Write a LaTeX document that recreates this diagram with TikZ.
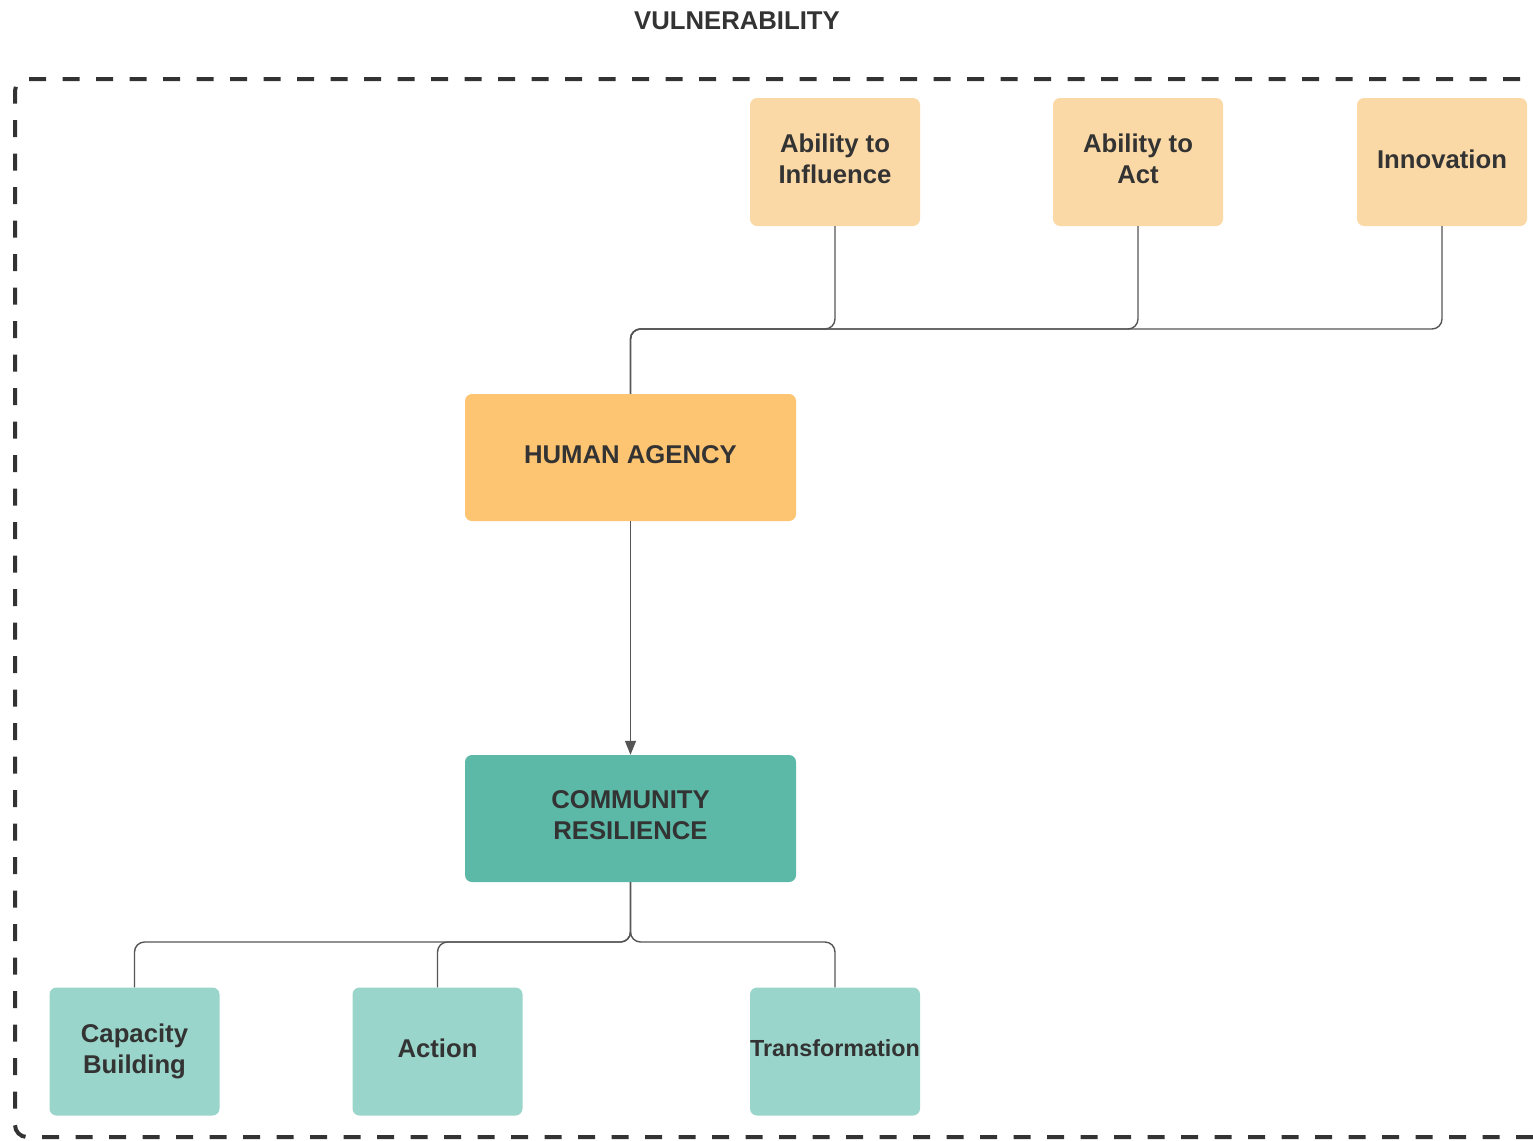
\documentclass[tikz,border=0pt]{standalone}
\usepackage{fontspec}
\setmainfont{Liberation Sans}
\usetikzlibrary{arrows.meta}
\definecolor{inkgray}{HTML}{333333}
\definecolor{linegray}{HTML}{555555}
\definecolor{paleorange}{HTML}{FBD9A6}
\definecolor{deeporange}{HTML}{FDC472}
\definecolor{deepteal}{HTML}{5CB8A7}
\definecolor{paleteal}{HTML}{99D5CA}
\begin{document}
\begin{tikzpicture}[x=1pt,y=-1pt,
  box/.style={rectangle, rounded corners=7pt, inner sep=0pt, align=center,
    text=inkgray, font=\fontsize{25.7}{31}\selectfont\bfseries,
    execute at end node={\rule[-6pt]{0pt}{6pt}}},
  smallbox/.style={box, minimum width=170pt, minimum height=128pt},
  bigbox/.style={box, minimum width=331pt, minimum height=127pt},
  link/.style={draw=linegray, line width=1.4pt, rounded corners=10pt},
  frame/.style={draw=inkgray, line width=4pt, dash pattern=on 17pt off 16.5pt, rounded corners=12pt}
]
\useasboundingbox (0,0) rectangle (1533,1140);
\fill[white] (0,0) rectangle (1533,1140);

% title
\node[text=inkgray, font=\fontsize{25.7}{31}\selectfont\bfseries] (title) at (737,21) {VULNERABILITY};

% dashed enclosure, running off the right edge
\begin{scope}
\clip (0,0) rectangle (1533,1140);
\draw[frame] (1600,1137) -- (15,1137) -- (15,79) -- (1600,79);
\end{scope}

% upper row
\node[smallbox, fill=paleorange] (influence) at (835,162) {Ability to\\Influence};
\node[smallbox, fill=paleorange] (act) at (1138,162) {Ability to\\Act};
\node[smallbox, fill=paleorange] (innov) at (1442,162) {Innovation};

% central boxes
\node[bigbox, fill=deeporange] (agency) at (630.5,457.5) {HUMAN AGENCY};
\node[bigbox, fill=deepteal] (resil) at (630.5,818.5) {COMMUNITY\\RESILIENCE};

% lower row
\node[smallbox, fill=paleteal] (capacity) at (134.5,1051.5) {Capacity\\Building};
\node[smallbox, fill=paleteal] (action) at (437.5,1051.5) {Action};
\node[smallbox, fill=paleteal, font=\fontsize{23.3}{28}\selectfont\bfseries] (transf) at (835,1051.5) {Transformation};

% upper bus
\coordinate (topbus) at (0,329);
\foreach \src in {influence, act, innov}
  \draw[link] (\src.south) -- (\src.south |- topbus) -- (agency.north |- topbus) -- (agency.north);

% main arrow
\draw[draw=linegray, line width=1.4pt, -{Triangle[length=14pt, width=11pt]}] (agency.south) -- (resil.north);

% lower bus
\coordinate (lowbus) at (0,942);
\foreach \dst in {capacity, action, transf}
  \draw[link] (resil.south) -- (resil.south |- lowbus) -- (\dst.north |- lowbus) -- (\dst.north);
\end{tikzpicture}
\end{document}
